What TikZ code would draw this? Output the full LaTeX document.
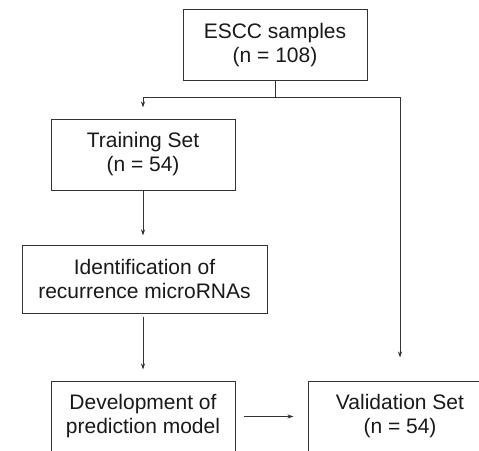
\documentclass[tikz,border=0pt]{standalone}
\usepackage{fontspec}
\setmainfont{Liberation Sans}
\usetikzlibrary{arrows.meta}
\begin{document}
\begin{tikzpicture}[x=1pt,y=-1pt,
  box/.style={draw=black!80, line width=1pt, minimum width=184pt, minimum height=71pt, align=center, inner sep=0pt, text=black!90, font=\fontsize{21}{24}\selectfont},
  link/.style={line width=1pt, draw=black!80},
  arr/.style={link, -{Stealth[length=6pt,width=4pt]}}]
\useasboundingbox (0,0) rectangle (479,450);
\node[box] (escc) at (275,45) {ESCC samples\\(n = 108)};
\node[box] (train) at (143,154.5) {Training Set\\(n = 54)};
\node[box, minimum width=245pt, minimum height=68pt] (ident) at (144.5,279) {Identification of\\recurrence microRNAs};
\node[box] (dev) at (143,416.5) {Development of\\prediction model};
\node[box] (val) at (400,416.5) {Validation Set\\(n = 54)};
\coordinate (jl) at (143,97);
\coordinate (jr) at (400,97);
\draw[link] (escc.south) -- (escc.south |- jl);
\draw[link] (jl) -- (jr);
\draw[arr, shorten >=11pt] (jl) -- (train.north);
\draw[arr, shorten >=23pt] (jr) -- (val.north);
\draw[arr, shorten >=9pt] (train.south) -- (train.south |- ident.north);
\draw[arr, shorten <=3pt, shorten >=11pt] (dev.north |- ident.south) -- (dev.north);
\draw[arr, shorten <=8pt, shorten >=14pt] (dev.east) -- (val.west);
\end{tikzpicture}
\end{document}
